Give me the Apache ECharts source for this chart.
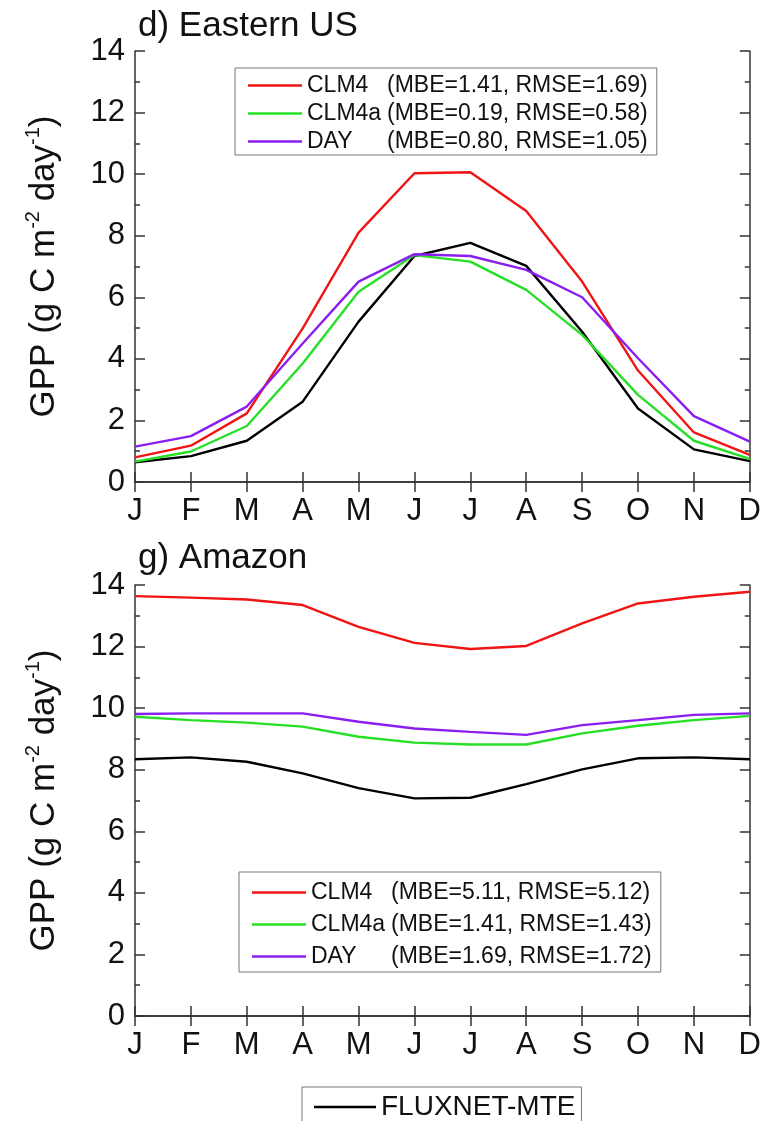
<!DOCTYPE html>
<html><head><meta charset="utf-8">
<script src="https://cdn.jsdelivr.net/npm/echarts@6/dist/echarts.min.js"></script>
<style>html,body{margin:0;padding:0;background:#fff}#c{width:764px;height:1121px}</style>
</head><body><div id="c"></div>
<script>
const months = ['J','F','M','A','M','J','J','A','S','O','N','D'];
const yTicks = [0, 14, 2];
// Panel d) Eastern US
const usFluxnet = [0.64,0.84,1.34,2.61,5.21,7.34,7.77,7.02,4.88,2.39,1.06,0.68];
const usCLM4    = [0.80,1.18,2.23,4.99,8.10,10.03,10.06,8.80,6.51,3.62,1.61,0.88];
const usCLM4a   = [0.66,0.99,1.82,3.85,6.18,7.37,7.16,6.24,4.78,2.83,1.34,0.75];
const usDAY     = [1.15,1.49,2.45,4.50,6.51,7.40,7.34,6.89,6.00,4.02,2.14,1.31];
const usStats   = ['(MBE=1.41, RMSE=1.69)','(MBE=0.19, RMSE=0.58)','(MBE=0.80, RMSE=1.05)'];
// Panel g) Amazon
const amFluxnet = [8.34,8.40,8.26,7.88,7.40,7.07,7.09,7.53,8.01,8.37,8.40,8.34];
const amCLM4    = [13.64,13.59,13.53,13.35,12.64,12.12,11.92,12.02,12.75,13.40,13.62,13.78];
const amCLM4a   = [9.72,9.61,9.53,9.40,9.07,8.88,8.82,8.82,9.18,9.43,9.61,9.75];
const amDAY     = [9.81,9.83,9.83,9.83,9.56,9.34,9.23,9.13,9.45,9.61,9.78,9.83];
const amStats   = ['(MBE=5.11, RMSE=5.12)','(MBE=1.41, RMSE=1.43)','(MBE=1.69, RMSE=1.72)'];
const modelNames = ['CLM4','CLM4a','DAY'];
const titles = ['d) Eastern US','g) Amazon'];

const FONT = "'Liberation Sans', Arial, sans-serif";
const AX = '#333';
const COLORS = {CLM4:'#f01414', CLM4a:'#26e026', DAY:'#8a1ef0', FLUX:'#000'};

const grids = [
  {left:135, top:51, width:618, height:431},
  {left:135, top:585, width:618, height:431}
];
const xAxes = [], yAxes = [];
grids.forEach((g,i)=>{
  xAxes.push({type:'category', gridIndex:i, data:months, boundaryGap:false, position:'bottom',
    axisLine:{lineStyle:{color:AX,width:1.5}},
    axisTick:{inside:true,length:10,lineStyle:{color:AX,width:1.5}},
    axisLabel:{interval:0,color:'#111',fontSize:31,fontFamily:FONT,margin:14},
    splitLine:{show:false}});
  xAxes.push({type:'category', gridIndex:i, data:months, boundaryGap:false, position:'top',
    axisLine:{lineStyle:{color:AX,width:1.5}},
    axisTick:{inside:true,length:10,lineStyle:{color:AX,width:1.5}},
    axisLabel:{show:false}, splitLine:{show:false}});
  const yBase = {type:'value', gridIndex:i, min:yTicks[0], max:yTicks[1], interval:yTicks[2],
    axisLine:{show:true,lineStyle:{color:AX,width:1.5}},
    axisTick:{show:true,inside:true,length:10,lineStyle:{color:AX,width:1.5}},
    minorTick:{show:true,splitNumber:2,length:5,lineStyle:{color:AX,width:1.5}},
    splitLine:{show:false}};
  yAxes.push(Object.assign({}, yBase, {position:'left',
    axisLabel:{color:'#111',fontSize:31,fontFamily:FONT,margin:10},
    name:'{a|GPP (g C m}{s|-2}{a| day}{s|-1}{a|)}',
    nameLocation:'middle', nameRotate:90, nameGap:70,
    nameTextStyle:{rich:{
      a:{fontSize:35,fontFamily:FONT,color:'#111',lineHeight:42},
      s:{fontSize:20,fontFamily:FONT,color:'#111',lineHeight:42,verticalAlign:'top'}
    }}}));
  yAxes.push(Object.assign({}, yBase, {position:'right', axisLabel:{show:false}}));
});

function mk(name, data, color, gi){
  return {type:'line', name, data, xAxisIndex:gi*2, yAxisIndex:gi*2,
    symbol:'none', showSymbol:false, lineStyle:{color,width:2.4}, itemStyle:{color},
    emphasis:{disabled:true}, animation:false, z: 3};
}
const panels = [
  {flux:usFluxnet, vals:[usCLM4,usCLM4a,usDAY], stats:usStats},
  {flux:amFluxnet, vals:[amCLM4,amCLM4a,amDAY], stats:amStats}
];
const series = [];
const legendData = [[],[]];
panels.forEach((p,gi)=>{
  series.push(mk('FLUXNET-MTE', p.flux, COLORS.FLUX, gi));
  modelNames.forEach((m,k)=>{
    const nm = m + '|' + p.stats[k];
    legendData[gi].push(nm);
    series.push(mk(nm, p.vals[k], COLORS[m], gi));
  });
});
const LINE_ICON = 'path://M0,0L54,0L54,2.4L0,2.4Z';
function legendFmt(n){ const parts = n.split('|'); return '{a|'+parts[0]+'}{b|'+parts[1]+'}'; }
function legendCfg(data, left, top, pad, lh, gap){
  return {data, orient:'vertical', left, top, padding:pad, itemGap:gap,
    itemWidth:54, itemHeight:lh, icon:LINE_ICON, symbolKeepAspect:true,
    borderColor:'#777', borderWidth:1, selectedMode:false,
    formatter:legendFmt,
    textStyle:{rich:{
      a:{fontSize:23,fontFamily:FONT,color:'#111',width:80,lineHeight:lh},
      b:{fontSize:23,fontFamily:FONT,color:'#111',lineHeight:lh}
    }}};
}
const option = {
  backgroundColor:'#fff',
  animation:false,
  title: titles.map((t,i)=>({text:t, left:138, top: i===0 ? 5 : 537, padding:0,
    textStyle:{fontSize:35,fontWeight:'normal',fontFamily:FONT,color:'#111',lineHeight:42}})),
  grid: grids,
  xAxis: xAxes,
  yAxis: yAxes,
  legend: [
    legendCfg(legendData[0], 235, 68, [6,9,2,13], 24, 5),
    legendCfg(legendData[1], 239, 872, [9,9,4,13], 28, 9),
    {data:['FLUXNET-MTE'], left:302, top:1087, padding:[5,6,12,12], itemWidth:62, itemHeight:30,
     icon:'path://M0,0L62,0L62,2.4L0,2.4Z', symbolKeepAspect:true,
     borderColor:'#777', borderWidth:1, selectedMode:false,
     textStyle:{fontSize:28,fontFamily:FONT,color:'#111',lineHeight:30}}
  ],
  series
};
const chart = echarts.init(document.getElementById('c'), null, {renderer:'canvas'});
chart.setOption(option);
</script></body></html>
